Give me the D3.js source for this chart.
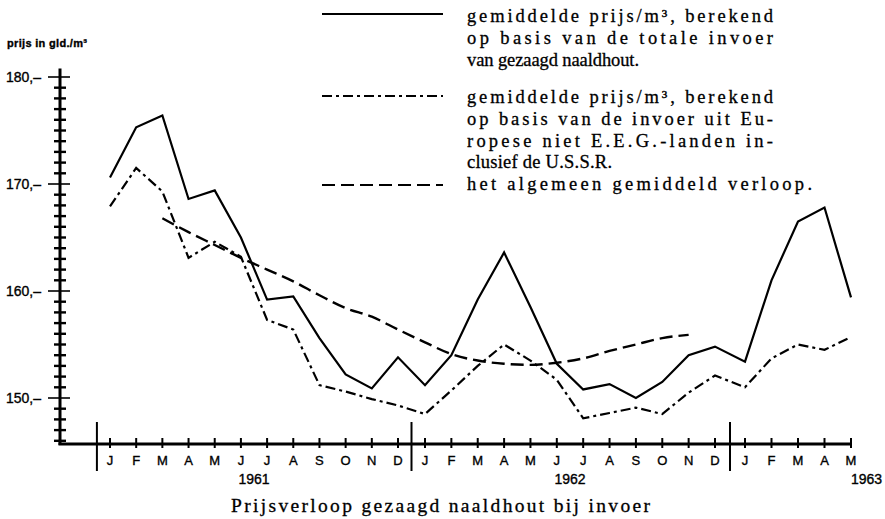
<!doctype html>
<html>
<head>
    <meta charset="utf-8">
    <script src="https://cdnjs.cloudflare.com/ajax/libs/d3/7.8.5/d3.min.js"></script>
    <style>
        body { margin: 0; background: #fff; }
        .sans { font-family: "Liberation Sans", "DejaVu Sans", sans-serif; stroke: #000; stroke-width: 0.35px; }
        .serif { font-family: "Liberation Serif", "DejaVu Serif", serif; stroke: #000; stroke-width: 0.3px; }
    </style>
</head>
<body>
<svg id="chart" width="885" height="519"></svg>
<script>
    // months J 1961 .. M 1963
    monthLabels = ["J","F","M","A","M","J","J","A","S","O","N","D",
                   "J","F","M","A","M","J","J","A","S","O","N","D",
                   "J","F","M","A","M"]
    yearLabels = ["1961", "1962", "1963"]
    yearLabelAt = [5.5, 17.5, 28]
    yearBreaks = [-0.5, 11.5, 23.5]

    // gemiddelde prijs/m3, totale invoer
    totalPrice = [170.6, 175.3, 176.4, 168.6, 169.4, 165.0, 159.2, 159.5, 155.6, 152.2, 150.9, 153.8,
                  151.2, 154.0, 159.2, 163.6, 158.5, 153.2, 150.8, 151.3, 150.0, 151.5, 154.0, 154.8,
                  153.4, 161.0, 166.5, 167.8, 159.4]
    // gemiddelde prijs/m3, Europese niet E.E.G.-landen incl. U.S.S.R.
    europePrice = [167.9, 171.5, 169.3, 163.1, 164.6, 163.2, 157.3, 156.4, 151.2, 150.6, 149.9, 149.3,
                   148.5, 150.7, 153.0, 155.0, 153.5, 151.7, 148.1, 148.6, 149.1, 148.5, 150.5, 152.1,
                   151.0, 153.7, 155.0, 154.5, 155.7]
    // algemeen gemiddeld verloop, M 1961 .. N 1962
    trendStart = 2
    trendPrice = [166.8, 165.5, 164.3, 163.1, 162.0, 160.9, 159.6, 158.4, 157.6, 156.4,
                  155.2, 154.1, 153.5, 153.2, 153.1, 153.3, 153.7, 154.4, 155.0, 155.6, 155.9]

    yTicks = [150, 160, 170, 180]
    legendText = [
        "gemiddelde prijs/m³, berekend",
        "op basis van de totale invoer",
        "van gezaagd naaldhout.",
        "gemiddelde prijs/m³, berekend",
        "op basis van de invoer uit Eu-",
        "ropese niet E.E.G.-landen in-",
        "clusief de U.S.S.R.",
        "het algemeen gemiddeld verloop."
    ]

    var svg = d3.select("#chart")

    var x = d3.scaleLinear()
        .domain([0, 11, 12, 23, 24, 28])
        .range([110, 398, 425, 715, 745, 851])
    var y = d3.scaleLinear().domain([150, 180]).range([398, 77])

    var axisX = 60, axisY = y(145.7)

    // y axis
    svg.append("line")
        .attr("x1", axisX).attr("x2", axisX)
        .attr("y1", axisY + 1).attr("y2", y(180.8))
        .style("stroke", "#000").style("stroke-width", 3)

    svg.selectAll("line.ytick")
        .data(d3.range(146, 181))
        .enter()
        .append("line")
        .attr("class", "ytick")
        .attr("x1", d => d % 10 == 0 ? 48 : 54)
        .attr("x2", d => d % 10 == 0 ? 70 : 66)
        .attr("y1", d => y(d)).attr("y2", d => y(d))
        .style("stroke", "#000")
        .style("stroke-width", d => d % 10 == 0 ? 1.6 : 2.4)

    svg.selectAll("text.ylab")
        .data(yTicks)
        .enter()
        .append("text")
        .attr("class", "ylab sans")
        .attr("x", 6)
        .attr("y", d => y(d) + 5)
        .style("font-size", "14px")
        .text(d => d + ",–")

    svg.append("text")
        .attr("class", "sans")
        .attr("x", 7).attr("y", 47)
        .attr("textLength", 80)
        .style("font-size", "11px")
        .style("font-weight", "bold")
        .text("prijs in gld./m³")

    // x axis
    svg.append("line")
        .attr("x1", axisX - 1.5).attr("x2", x(28) + 1)
        .attr("y1", axisY).attr("y2", axisY)
        .style("stroke", "#000").style("stroke-width", 3)

    svg.selectAll("line.xtick")
        .data(monthLabels)
        .enter()
        .append("line")
        .attr("class", "xtick")
        .attr("x1", (d, i) => x(i)).attr("x2", (d, i) => x(i))
        .attr("y1", axisY - 6).attr("y2", axisY + 4)
        .style("stroke", "#000").style("stroke-width", 2)

    svg.selectAll("line.yearbreak")
        .data(yearBreaks)
        .enter()
        .append("line")
        .attr("class", "yearbreak")
        .attr("x1", d => x(d)).attr("x2", d => x(d))
        .attr("y1", axisY - 22).attr("y2", axisY + 27)
        .style("stroke", "#000").style("stroke-width", 2)

    svg.selectAll("text.month")
        .data(monthLabels)
        .enter()
        .append("text")
        .attr("class", "month sans")
        .attr("x", (d, i) => x(i))
        .attr("y", axisY + 21)
        .attr("text-anchor", "middle")
        .style("font-size", "13px")
        .text(d => d)

    svg.selectAll("text.year")
        .data(yearLabels)
        .enter()
        .append("text")
        .attr("class", "year sans")
        .attr("x", (d, i) => x(yearLabelAt[i]))
        .attr("y", axisY + 40)
        .attr("text-anchor", (d, i) => i == 2 ? "start" : "middle")
        .style("font-size", "14px")
        .text(d => d)

    // lines
    var line = d3.line()
        .x(d => x(d[0]))
        .y(d => y(d[1]))

    svg.append("path")
        .attr("d", line(totalPrice.map((v, i) => [i, v])))
        .style("fill", "none").style("stroke", "#000")
        .style("stroke-width", 2.2).style("stroke-linejoin", "miter")

    svg.append("path")
        .attr("d", line(europePrice.map((v, i) => [i, v])))
        .style("fill", "none").style("stroke", "#000")
        .style("stroke-width", 2.2)
        .style("stroke-dasharray", "10,4,3,4")

    svg.append("path")
        .attr("d", line.curve(d3.curveMonotoneX)(trendPrice.map((v, i) => [i + trendStart, v])))
        .style("fill", "none").style("stroke", "#000")
        .style("stroke-width", 2.4)
        .style("stroke-dasharray", "13,6")

    // legend
    var legendY = [14, 96, 185]
    var legendDash = [null, "10,4,3,4", "13,6"]
    svg.selectAll("line.legend")
        .data(legendY)
        .enter()
        .append("line")
        .attr("class", "legend")
        .attr("x1", 322).attr("x2", 443)
        .attr("y1", d => d).attr("y2", d => d)
        .style("stroke", "#000").style("stroke-width", 2.2)
        .style("stroke-dasharray", (d, i) => legendDash[i])

    var legendBase = [22, 44, 66, 103, 125, 147, 168, 190]
    var legendWidth = [306, 306, 172, 306, 306, 306, 145, 345]
    svg.selectAll("text.legend")
        .data(legendText)
        .enter()
        .append("text")
        .attr("class", "legend serif")
        .attr("x", 467)
        .attr("y", (d, i) => legendBase[i])
        .attr("textLength", (d, i) => legendWidth[i])
        .attr("lengthAdjust", "spacing")
        .style("font-size", "18.5px")
        .text(d => d)

    svg.append("text")
        .attr("class", "serif")
        .attr("x", 231).attr("y", 512)
        .attr("textLength", 419)
        .attr("lengthAdjust", "spacing")
        .style("font-size", "19.5px")
        .text("Prijsverloop gezaagd naaldhout bij invoer")
</script>
</body>
</html>
